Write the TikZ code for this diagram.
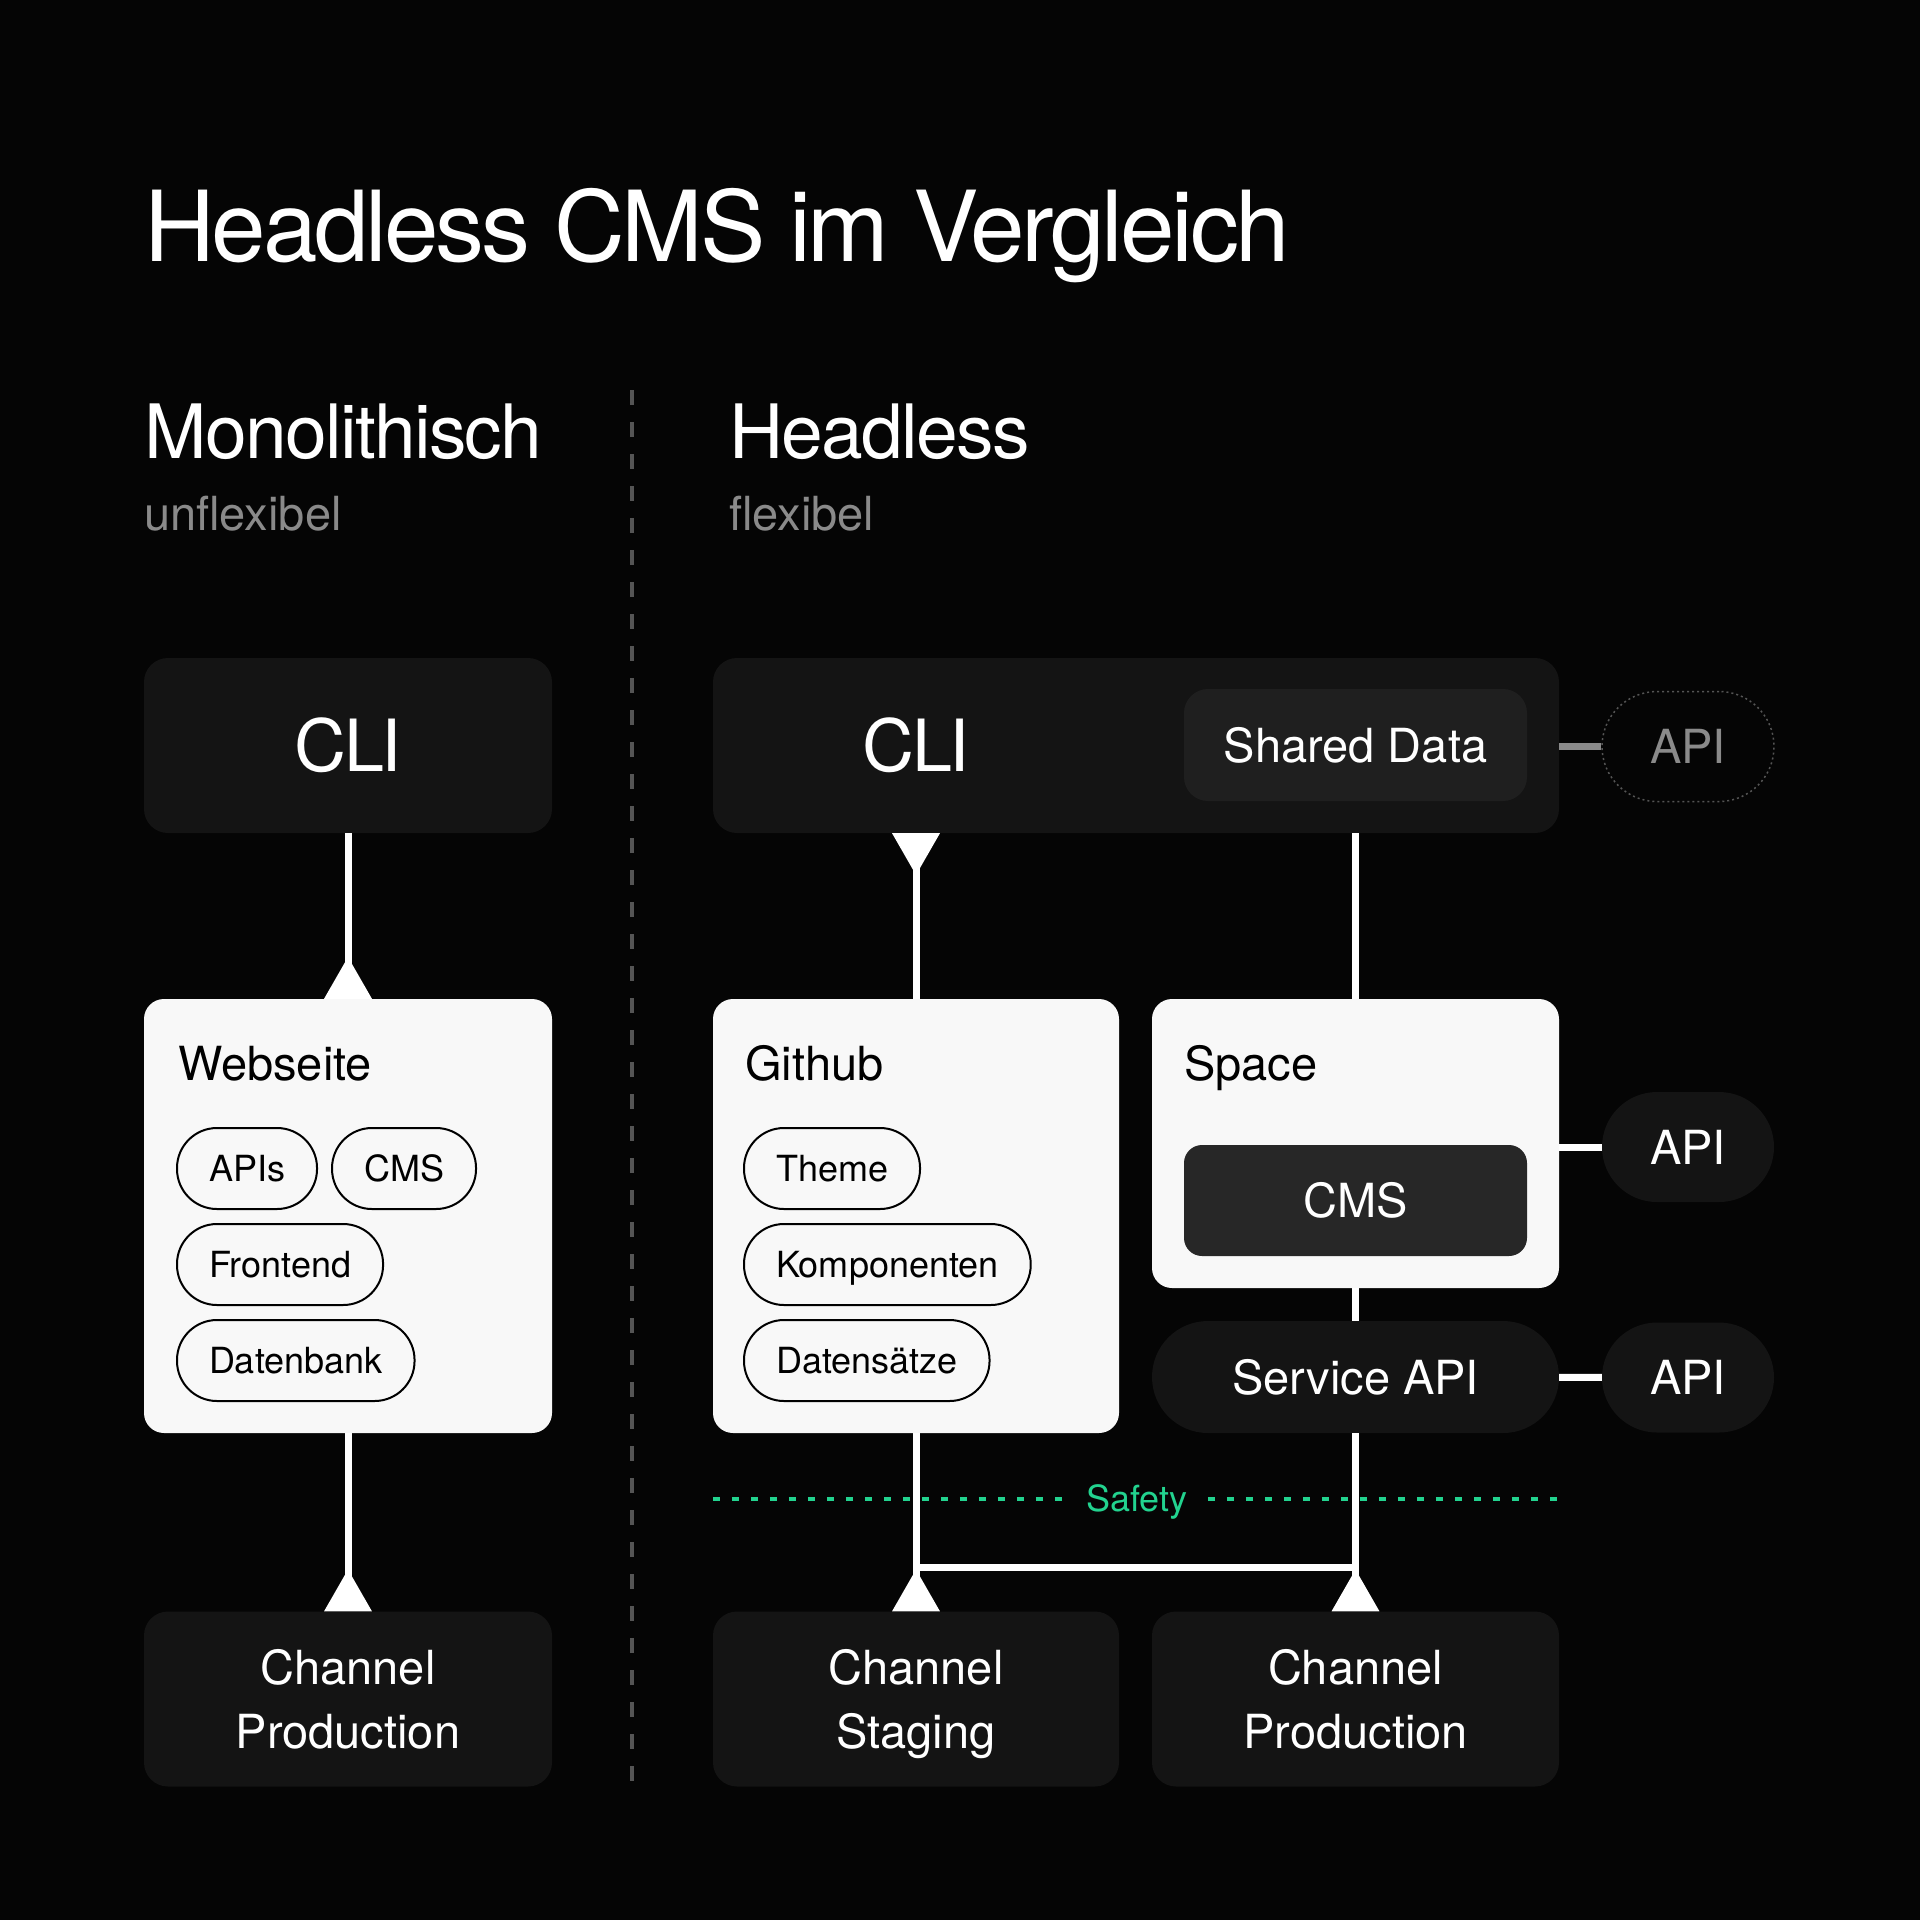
\documentclass[tikz,border=0pt]{standalone}
\usepackage{fontspec}
\setmainfont{TeX Gyre Heros}
\usetikzlibrary{arrows.meta,positioning}

\definecolor{bg}{HTML}{050505}
\definecolor{boxdark}{HTML}{141414}
\definecolor{boxmid}{HTML}{1F1F1F}
\definecolor{cmsdark}{HTML}{272727}
\definecolor{boxlight}{HTML}{F8F8F8}
\definecolor{subgray}{HTML}{8A8A8A}
\definecolor{divgray}{HTML}{555555}
\definecolor{safegreen}{HTML}{22D38F}

\newcommand\fnttitle{\fontsize{98}{100}\selectfont\addfontfeatures{LetterSpace=-3.3}}
\newcommand\fnthead{\fontsize{75}{80}\selectfont\addfontfeatures{LetterSpace=-2.2}}
\newcommand\fntsub{\fontsize{47}{50}\selectfont}
\newcommand\fntcli{\fontsize{72}{76}\selectfont\addfontfeatures{LetterSpace=-3}}
\newcommand\fntbox{\fontsize{47}{64}\selectfont}
\newcommand\fntpill{\fontsize{36}{40}\selectfont}

\begin{document}
\begin{tikzpicture}[x=1pt,y=-1pt,
  txt/.style={inner sep=0pt,anchor=base west,text=white},
  darkbox/.style={fill=boxdark,rounded corners=24pt,minimum width=408pt,minimum height=175pt,text=white},
  lightbox/.style={fill=boxlight,rounded corners=20pt,minimum width=408pt,minimum height=434pt},
  chip/.style={draw=black,line width=2pt,rounded corners=40pt,minimum height=81pt,inner xsep=32pt,inner ysep=0pt,
    anchor=west,font=\fntpill,text height=26pt,text depth=0pt},
  capc/.style={text height=34pt,text depth=0pt},
  chan/.style={darkbox,align=center,font=\fntbox,text depth=0pt},
  apibox/.style={fill=boxdark,rounded corners=55pt,minimum width=172pt,minimum height=110pt,text=white,font=\fntbox,capc},
  wire/.style={white,line width=7pt},
  flare/.style={-{Triangle[reversed,width=46pt,length=42pt]}},
  flarestart/.style={{Triangle[reversed,width=46pt,length=42pt]}-}]
  \fill[bg] (0,0) rectangle (1920,1920);

  % headings
  \node[txt,font=\fnttitle] (title) at (144,261) {Headless CMS im Vergleich};
  \node[txt,font=\fnthead] (mono) at (144,458) {Monolithisch};
  \node[txt,font=\fntsub,text=subgray] (unflex) at (144,530) {unflexibel};
  \node[txt,font=\fnthead] (headl) at (729,458) {Headless};
  \node[txt,font=\fntsub,text=subgray] (flex) at (729,530) {flexibel};
  \draw[divgray,line width=4pt,dash pattern=on 15pt off 17pt] (632,390) -- (632,1788);

  % monolithisch
  \node[darkbox,font=\fntcli,text height=52pt,text depth=0pt] (cliL) at (348,745.5) {CLI};
  \node[lightbox] (web) at (348,1216) {};
  \node[txt,font=\fntbox,text=black] (webT) at (178,1080) {Webseite};
  \node[chip] (apis) at (176,1168.5) {APIs};
  \node[chip,right=13pt of apis] (cmsL) {CMS};
  \node[chip] (front) at (176,1264.5) {Frontend};
  \node[chip] (db) at (176,1360.5) {Datenbank};
  \node[chan] (prodL) at (348,1699) {Channel\\Production};
  \draw[wire,flare] (cliL) -- (web);
  \draw[wire,flare] (web) -- (prodL);

  % headless
  \node[darkbox,minimum width=846pt] (cliR) at (1136,745.5) {};
  \node[font=\fntcli,text=white,text height=52pt,text depth=0pt] (cliRT) at (916,745.5) {CLI};
  \node[fill=boxmid,rounded corners=24pt,minimum width=343pt,minimum height=112pt,text=white,font=\fntbox,capc]
    (shared) at (1355.5,745) {Shared Data};
  \node[apibox,fill=none,draw=divgray,line width=1.5pt,dash pattern=on 2pt off 3pt,text=subgray]
    (apiT) at (1688,746.5) {API};

  \node[lightbox,minimum width=406pt] (github) at (916,1216) {};
  \node[txt,font=\fntbox,text=black] (githubT) at (745,1080) {Github};
  \node[chip] (theme) at (743,1168.5) {Theme};
  \node[chip] (komp) at (743,1264.5) {Komponenten};
  \node[chip] (dsatz) at (743,1360.5) {Datensätze};

  \node[lightbox,minimum width=407pt,minimum height=289pt] (space) at (1355.5,1143.5) {};
  \node[txt,font=\fntbox,text=black] (spaceT) at (1184,1080) {Space};
  \node[fill=cmsdark,rounded corners=18pt,minimum width=343pt,minimum height=111pt,text=white,font=\fntbox,capc]
    (cmsR) at (1355.5,1200.5) {CMS};
  \node[apibox,minimum width=407pt,minimum height=112pt,rounded corners=56pt] (service) at (1355.5,1377) {Service API};
  \node[apibox] (apiM) at (1688,1147) {API};
  \node[apibox] (apiB) at (1688,1377.5) {API};

  \node[chan,minimum width=406pt] (stage) at (916,1699) {Channel\\Staging};
  \node[chan,minimum width=407pt] (prodR) at (1355.5,1699) {Channel\\Production};

  \coordinate (bar) at (0,1567);
  \draw[wire,flarestart] (cliRT |- cliR.south) -- (cliRT |- github.north);
  \draw[wire] (shared |- cliR.south) -- (space);
  \draw[wire] (space) -- (service);
  \draw[wire,flare] (github) -- (stage);
  \draw[wire,flare] (service) -- (prodR);
  \draw[wire] (github.south |- bar) -- (service.south |- bar);
  \draw[line width=7pt,subgray] (apiT.west -| cliR.east) -- (apiT.west);
  \draw[wire] (apiM.west -| space.east) -- (apiM.west);
  \draw[wire] (service) -- (apiB);

  % safety
  \node[font=\fntpill,text=safegreen,inner xsep=20pt,text height=25pt,text depth=0pt] (safety) at (1137,1499) {Safety};
  \draw[safegreen,line width=3.5pt,dash pattern=on 7pt off 12pt] (stage.west |- safety) -- (safety.west);
  \draw[safegreen,line width=3.5pt,dash pattern=on 7pt off 12pt] (safety.east) -- (prodR.east |- safety);
\end{tikzpicture}
\end{document}
